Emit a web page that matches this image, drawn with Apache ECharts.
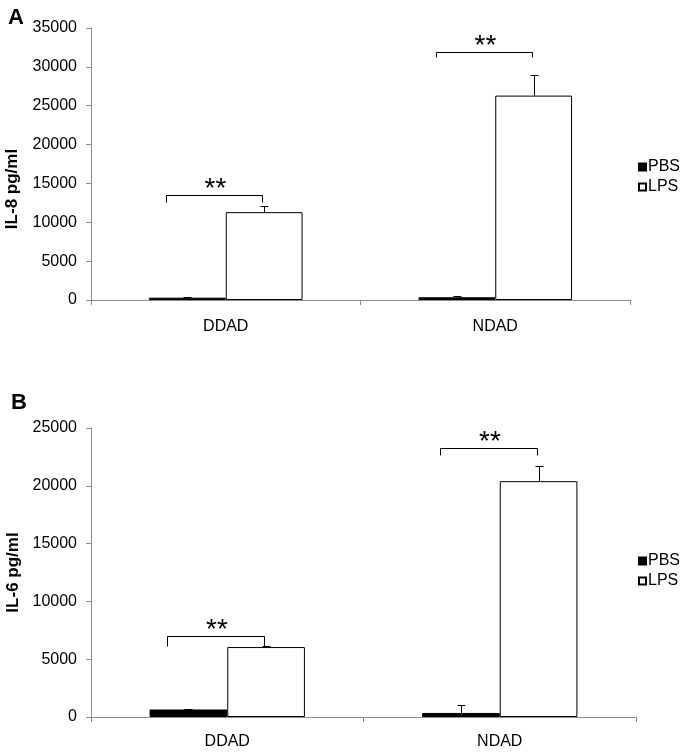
<!DOCTYPE html>
<html>
<head>
<meta charset="utf-8">
<script src="https://cdn.jsdelivr.net/npm/echarts@6/dist/echarts.min.js"></script>
<style>
html,body{margin:0;padding:0;background:#fff;}
#chart{width:684px;height:752px;}
</style>
</head>
<body>
<div id="chart"></div>
<script>
// ---- data ----
const categories = ['DDAD', 'NDAD'];
const groupNames = ['PBS', 'LPS'];
const il8Ticks = [0, 35000, 5000];
const il6Ticks = [0, 25000, 5000];

const il8PBS = [300, 350];
const il8PBSErr = [150, 120];
const il8LPS = [11300, 26300];
const il8LPSErr = [800, 2700];

const il6PBS = [650, 350];
const il6PBSErr = [60, 650];
const il6LPS = [6050, 20400];
const il6LPSErr = [60, 1300];

const il8BracketY = [13500, 31900];
const il8BracketTick = [12600, 31250];
const il6BracketY = [7000, 23300];
const il6BracketTick = [6150, 22700];
const sigLabels = ['**', '**'];

// ---- helpers ----
const FONT = 'Liberation Sans, Arial, sans-serif';
const CAT_GAP = 0.43;

function errSeries(axisIdx, means, errs, sign) {
  return {
    type: 'custom',
    xAxisIndex: axisIdx, yAxisIndex: axisIdx,
    silent: true, z: 5,
    data: means.map((m, i) => [i, m, m + errs[i]]),
    renderItem: function (params, api) {
      const c = api.value(0);
      const base = api.coord([c, api.value(1)]);
      const top = api.coord([c, api.value(2)]);
      const bw = api.size([1, 0])[0];
      const x = Math.round(base[0] + sign * bw * (1 - CAT_GAP) / 4) + 0.5;
      const yb = base[1], yt = Math.round(top[1]) + 0.5;
      const st = { stroke: '#000', lineWidth: 1 };
      return {
        type: 'group',
        children: [
          { type: 'line', shape: { x1: x, y1: yb, x2: x, y2: yt }, style: st },
          { type: 'line', shape: { x1: x - 4, y1: yt, x2: x + 4, y2: yt }, style: st }
        ]
      };
    }
  };
}

function bracketSeries(axisIdx, ys, ticks) {
  return {
    type: 'custom',
    xAxisIndex: axisIdx, yAxisIndex: axisIdx,
    silent: true, z: 6,
    data: ys.map((y, i) => [i, y, ticks[i]]),
    renderItem: function (params, api) {
      const c = api.value(0);
      const p = api.coord([c, api.value(1)]);
      const pt = api.coord([c, api.value(2)]);
      const cw = api.size([1, 0])[0];
      const xl = Math.round(p[0] - 0.22 * cw) + 0.5;
      const xr = Math.round(p[0] + 0.135 * cw) + 0.5;
      const yb = Math.round(p[1]) + 0.5;
      const yt = Math.round(pt[1]) + 0.5;
      return {
        type: 'group',
        children: [
          { type: 'polyline', shape: { points: [[xl, yt], [xl, yb], [xr, yb], [xr, yt]] },
            style: { stroke: '#000', lineWidth: 1, fill: null } },
          { type: 'text', style: { text: sigLabels[c], x: (xl + xr) / 2 + 1, y: yb - 20,
              align: 'center', verticalAlign: 'top', font: '28px ' + FONT, fill: '#000' } }
        ]
      };
    }
  };
}

function barSeries(axisIdx, name, vals) {
  const black = name === 'PBS';
  return {
    type: 'bar', name: name,
    xAxisIndex: axisIdx, yAxisIndex: axisIdx,
    data: vals,
    barGap: '0%', barCategoryGap: (CAT_GAP * 100) + '%',
    itemStyle: { color: black ? '#000' : '#fff', borderColor: '#000', borderWidth: 1 },
    emphasis: { disabled: true }
  };
}

const axisGray = '#8c8c8c';
function xAx(grid, margin) {
  return {
    type: 'category', gridIndex: grid, data: categories,
    axisLine: { lineStyle: { color: axisGray, width: 1 } },
    axisTick: { show: true, length: 5, lineStyle: { color: axisGray } },
    axisLabel: { color: '#000', fontSize: 16, fontFamily: FONT, margin: margin }
  };
}
function yAx(grid, ticks, name, pad, gap) {
  return {
    type: 'value', gridIndex: grid, min: ticks[0], max: ticks[1], interval: ticks[2],
    name: name, nameLocation: 'middle', nameGap: gap,
    nameTextStyle: { color: '#000', fontSize: 17, fontWeight: 'bold', fontFamily: FONT, padding: pad },
    axisLine: { show: true, lineStyle: { color: axisGray, width: 1 } },
    axisTick: { show: true, length: 5, lineStyle: { color: axisGray } },
    splitLine: { show: false },
    axisLabel: { color: '#000', fontSize: 16, fontFamily: FONT, margin: 14,
      formatter: function (v) { return String(v); } }
  };
}

function legend(top) {
  return {
    orient: 'vertical', left: 633, top: top,
    itemWidth: 7, itemHeight: 7, itemGap: 4, icon: 'rect',
    selectedMode: false,
    textStyle: { color: '#000', fontSize: 16, fontFamily: FONT, padding: [0, 0, 0, -3] },
    data: groupNames
  };
}

const chart = echarts.init(document.getElementById('chart'), null, { renderer: 'canvas' });
chart.setOption({
  animation: false,
  backgroundColor: '#fff',
  grid: [
    { left: 91, top: 28, width: 539, height: 272, containLabel: false, outerBoundsMode: 'none' },
    { left: 91, top: 428, width: 545, height: 289, containLabel: false, outerBoundsMode: 'none' }
  ],
  xAxis: [xAx(0, 19), xAx(1, 17)],
  yAxis: [yAx(0, il8Ticks, 'IL-8 pg/ml', [0, 50, 0, 0], 70), yAx(1, il6Ticks, 'IL-6 pg/ml', [0, 0, 0, 0], 65)],
  legend: [legend(154), legend(548)],
  title: [
    { text: 'A', left: 3, top: 2, textStyle: { fontSize: 22, fontWeight: 'bold', fontFamily: FONT, color: '#000' } },
    { text: 'B', left: 6, top: 387, textStyle: { fontSize: 22, fontWeight: 'bold', fontFamily: FONT, color: '#000' } }
  ],
  series: [
    barSeries(0, 'PBS', il8PBS),
    barSeries(0, 'LPS', il8LPS),
    barSeries(1, 'PBS', il6PBS),
    barSeries(1, 'LPS', il6LPS),
    errSeries(0, il8PBS, il8PBSErr, -1),
    errSeries(0, il8LPS, il8LPSErr, 1),
    errSeries(1, il6PBS, il6PBSErr, -1),
    errSeries(1, il6LPS, il6LPSErr, 1),
    bracketSeries(0, il8BracketY, il8BracketTick),
    bracketSeries(1, il6BracketY, il6BracketTick)
  ]
});
</script>
</body>
</html>
